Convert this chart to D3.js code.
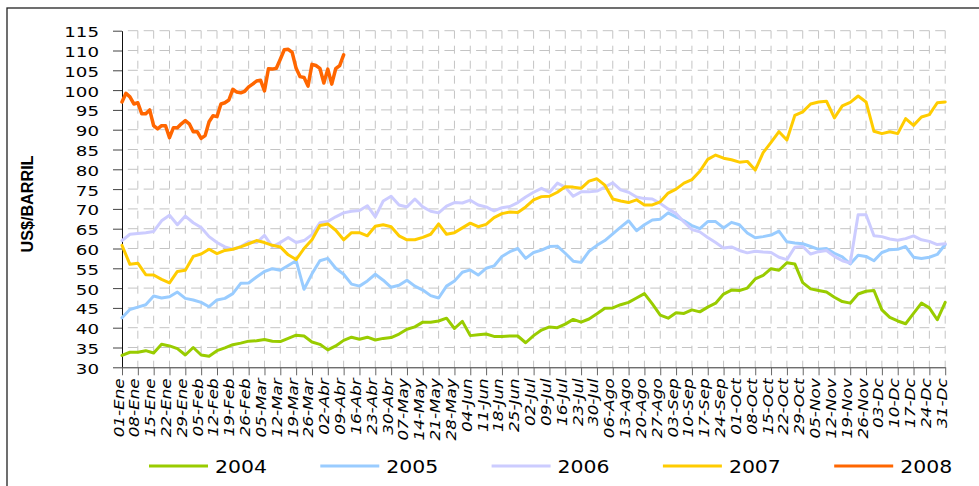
<!DOCTYPE html>
<html>
<head>
<meta charset="utf-8">
<script src="https://cdn.jsdelivr.net/npm/d3@7"></script>
<style>
  body { margin: 0; background: #fff; }
  svg { display: block; }
</style>
</head>
<body>
<div id="chart"></div>
<script>
// Weekly tick labels (day 0 = 01-Ene, one label every 7 days)
var tickLabels = ["01-Ene","08-Ene","15-Ene","22-Ene","29-Ene","05-Feb","12-Feb","19-Feb","26-Feb",
  "05-Mar","12-Mar","19-Mar","26-Mar","02-Abr","09-Abr","16-Abr","23-Abr","30-Abr","07-May","14-May",
  "21-May","28-May","04-Jun","11-Jun","18-Jun","25-Jun","02-Jul","09-Jul","16-Jul","23-Jul","30-Jul",
  "06-Ago","13-Ago","20-Ago","27-Ago","03-Sep","10-Sep","17-Sep","24-Sep","01-Oct","08-Oct","15-Oct",
  "22-Oct","29-Oct","05-Nov","12-Nov","19-Nov","26-Nov","03-Dc","10-Dc","17-Dc","24-Dc","31-Dc"];

var yTicks = [30,35,40,45,50,55,60,65,70,75,80,85,90,95,100,105,110,115];

// Prices (US$/barril), read every half week (3.5 days) from 01-Ene
var v2004 = [33.0,33.8,33.8,34.2,33.6,35.8,35.4,34.7,33.1,35.0,
  33.1,32.8,34.2,34.9,35.7,36.1,36.6,36.7,37.0,36.6,
  36.5,37.3,38.1,37.9,36.4,35.8,34.4,35.4,36.8,37.6,
  37.1,37.6,36.9,37.3,37.5,38.4,39.6,40.2,41.4,41.4,
  41.7,42.4,39.8,41.6,38.0,38.2,38.4,37.8,37.8,37.9,
  37.9,36.2,38.0,39.4,40.2,40.0,40.9,42.1,41.4,42.2,
  43.5,44.9,45.0,45.8,46.4,47.5,48.6,46.0,43.2,42.4,
  43.8,43.6,44.5,44.0,45.2,46.2,48.5,49.5,49.4,50.0,
  52.3,53.2,54.9,54.5,56.4,56.1,51.4,49.8,49.4,49.0,
  47.7,46.6,46.2,48.5,49.2,49.4,44.5,42.6,41.7,41.0,
  43.6,46.2,45.0,42.0,46.4];

var v2005 = [42.5,44.6,45.2,45.8,48.0,47.5,47.8,49.0,47.4,47.0,
  46.4,45.3,47.0,47.4,48.6,51.2,51.3,52.8,54.2,54.9,
  54.5,55.7,56.9,49.7,53.6,56.9,57.5,55.0,53.5,51.0,
  50.5,51.8,53.5,52.0,50.2,50.7,52.0,50.5,49.5,48.1,
  47.5,50.5,51.8,54.0,54.6,53.3,55.0,55.6,58.0,59.2,
  60.0,57.5,59.0,59.6,60.5,60.6,58.8,56.8,56.5,59.3,
  60.8,62.0,63.7,65.4,67.0,64.5,66.0,67.2,67.4,69.0,
  68.0,67.0,65.8,65.0,66.8,66.8,65.2,66.6,66.0,63.9,
  62.7,63.0,63.4,64.4,61.7,61.4,61.2,60.5,59.8,60.0,
  58.8,57.9,56.1,58.3,58.0,56.9,59.0,59.7,59.8,60.5,
  57.8,57.5,57.8,58.5,61.0];

var v2006 = [62.0,63.6,63.8,64.0,64.3,67.0,68.4,66.0,68.2,66.5,
  65.3,63.0,61.5,60.4,59.8,60.5,61.7,61.5,63.3,60.5,
  61.5,62.8,61.5,62.0,63.5,66.5,66.8,68.0,69.0,69.4,
  69.6,70.8,68.0,72.0,73.2,71.0,70.5,72.5,70.5,69.4,
  69.0,70.7,71.6,71.5,72.2,71.0,70.5,69.5,70.3,70.6,
  71.6,73.0,74.2,75.2,74.2,76.5,75.5,73.2,74.3,74.3,
  74.5,75.5,76.6,74.8,74.2,73.0,72.6,72.5,71.4,70.0,
  68.8,66.7,64.8,64.2,62.8,61.5,60.1,60.4,59.5,58.9,
  59.3,59.1,59.0,57.8,57.2,60.3,60.5,58.6,59.2,59.5,
  58.0,56.9,56.3,68.5,68.5,63.2,63.0,62.4,62.1,62.5,
  63.2,62.2,61.8,61.0,61.2];

var v2007 = [60.8,56.0,56.3,53.4,53.3,52.2,51.3,54.2,54.5,58.0,
  58.6,59.8,58.7,59.5,59.8,60.4,61.2,62.0,61.5,60.8,
  60.4,58.4,57.2,60.0,62.2,65.8,66.2,64.6,62.2,64.0,
  64.0,63.2,65.6,66.0,65.5,63.2,62.2,62.2,62.8,63.6,
  66.2,63.6,64.0,65.2,66.4,65.5,66.1,67.8,68.8,69.2,
  69.1,70.5,72.3,73.1,73.2,74.2,75.6,75.5,75.2,77.0,
  77.6,76.0,72.5,72.0,71.6,72.3,71.0,71.0,71.8,74.0,
  75.0,76.5,77.4,79.5,82.5,83.6,82.8,82.4,81.8,82.0,
  79.8,84.2,86.8,89.5,87.4,93.6,94.5,96.5,97.0,97.2,
  93.0,96.0,96.9,98.5,97.0,89.6,89.0,89.5,89.0,92.8,
  91.1,93.2,93.8,96.8,97.0];

// 2008 only runs to mid April, read every quarter week (1.75 days)
var v2008 = [97.0,99.2,98.3,96.5,96.8,94.0,94.0,95.0,91.0,90.2,
  91.0,91.0,88.0,90.5,90.5,91.5,92.3,91.5,89.5,89.5,
  87.8,88.5,92.0,93.5,93.3,96.5,96.8,97.5,100.2,99.5,
  99.3,99.7,100.8,101.5,102.3,102.5,99.8,105.4,105.3,105.5,
  107.8,110.2,110.3,109.5,105.5,103.4,103.2,101.0,106.5,106.2,
  105.5,101.8,105.3,101.5,105.4,106.2,108.9];

var series = [
  {name: "2004", values: v2004, step: 3.5,  color: "#99cc00", width: 3},
  {name: "2005", values: v2005, step: 3.5,  color: "#99ccff", width: 3},
  {name: "2006", values: v2006, step: 3.5,  color: "#ccccff", width: 3},
  {name: "2007", values: v2007, step: 3.5,  color: "#ffcc00", width: 3},
  {name: "2008", values: v2008, step: 1.75, color: "#ff6600", width: 3.5}
];

// 1. SVG size and margins
var svgWidth = 979;
var svgHeight = 486;
var margin = {top: 30.7, right: 33.8, bottom: 118.7, left: 122};
var width = svgWidth - margin.left - margin.right;
var height = svgHeight - margin.top - margin.bottom;

var svg = d3.select("#chart").append("svg")
    .attr("width", svgWidth)
    .attr("height", svgHeight);

// outer frame (runs off the right and bottom edges)
svg.append("rect")
    .attr("x", 7).attr("y", 8)
    .attr("width", 1000).attr("height", 1000)
    .attr("fill", "none")
    .attr("stroke", "#222")
    .attr("stroke-width", 1.3);

var chartGroup = svg.append("g")
    .attr("transform", `translate(${margin.left}, ${margin.top})`);

// 2. Scales
var weekDays = tickLabels.map((d, i) => i * 7);
var xScale = d3.scaleLinear().domain([0, 364]).range([0, width]);
var yScale = d3.scaleLinear().domain([30, 115]).range([height, 0]);
var weekStep = xScale(7) - xScale(0);

// 3. Dashed grid
chartGroup.append("g").selectAll("line")
    .data(yTicks.slice(1))
    .enter().append("line")
    .attr("x1", 0).attr("x2", width)
    .attr("y1", d => yScale(d)).attr("y2", d => yScale(d))
    .attr("stroke", "#c4c4c4")
    .attr("stroke-width", 1)
    .attr("stroke-dasharray", `10,${weekStep - 10}`)
    .attr("stroke-dashoffset", 10);

chartGroup.append("g").selectAll("line")
    .data(weekDays.slice(1))
    .enter().append("line")
    .attr("x1", d => xScale(d)).attr("x2", d => xScale(d))
    .attr("y1", 0).attr("y2", height)
    .attr("stroke", "#c4c4c4")
    .attr("stroke-width", 1)
    .attr("stroke-dasharray", "8,7");

// 4. Axes
var leftAxis = d3.axisLeft(yScale).tickValues(yTicks).tickSize(9).tickSizeOuter(0).tickPadding(14);
var bottomAxis = d3.axisBottom(xScale).tickValues(weekDays)
    .tickFormat((d, i) => tickLabels[i]).tickSize(8).tickSizeOuter(0);

var yAxis = chartGroup.append("g").call(leftAxis);
yAxis.select(".domain").attr("stroke", "#111");
yAxis.selectAll(".tick line").attr("stroke", "#444");
yAxis.selectAll("text")
    .attr("dy", "0.43em")
    .attr("fill", "#000")
    .style("font-family", "'DejaVu Sans', Verdana, sans-serif")
    .style("font-size", "14px");

var xAxis = chartGroup.append("g")
    .attr("transform", `translate(0, ${height})`)
    .call(bottomAxis);
xAxis.select(".domain").attr("stroke", "#333");
xAxis.selectAll(".tick line").attr("stroke", "#666");
xAxis.selectAll("text")
    .attr("x", 0).attr("y", 0).attr("dy", null)
    .attr("text-anchor", "end")
    .attr("transform", "translate(1, 11) rotate(-90)")
    .attr("fill", "#000")
    .style("font-family", "'DejaVu Sans', Verdana, sans-serif")
    .style("font-style", "italic")
    .style("font-size", "14px");

// stretch text like the source picture
function stretch(sel, k) {
  sel.each(function() {
    var len = this.getComputedTextLength();
    d3.select(this).attr("textLength", len * k).attr("lengthAdjust", "spacingAndGlyphs");
  });
}
stretch(yAxis.selectAll("text"), 1.3);
stretch(xAxis.selectAll("text"), 1.2);

// 5. Lines
var lineGroup = chartGroup.append("g");
series.forEach(function(s) {
  var line = d3.line()
      .x((d, i) => xScale(i * s.step))
      .y(d => yScale(d));
  lineGroup.append("path")
      .datum(s.values)
      .attr("fill", "none")
      .attr("stroke", s.color)
      .attr("stroke-width", s.width)
      .attr("stroke-linejoin", "round")
      .attr("stroke-linecap", "round")
      .attr("d", line);
});

// 6. Y axis title
svg.append("text")
    .attr("transform", "translate(33, 204) rotate(-90)")
    .attr("text-anchor", "middle")
    .style("font-family", "'Liberation Sans', Arial, sans-serif")
    .style("font-weight", "bold")
    .style("font-size", "17px")
    .attr("textLength", 97)
    .attr("lengthAdjust", "spacingAndGlyphs")
    .text("US$/BARRIL");

// 7. Legend
var legend = svg.append("g").attr("transform", "translate(149, 466)");
var items = legend.selectAll("g")
    .data(series)
    .enter().append("g")
    .attr("transform", (d, i) => `translate(${i * 171.3}, 0)`);
items.append("line")
    .attr("x1", 0).attr("x2", 59)
    .attr("stroke", d => d.color)
    .attr("stroke-width", 3);
items.append("text")
    .attr("x", 66).attr("y", 7)
    .style("font-family", "'DejaVu Sans', Verdana, sans-serif")
    .style("font-size", "17px")
    .text(d => d.name);
stretch(items.selectAll("text"), 1.2);
</script>
</body>
</html>
